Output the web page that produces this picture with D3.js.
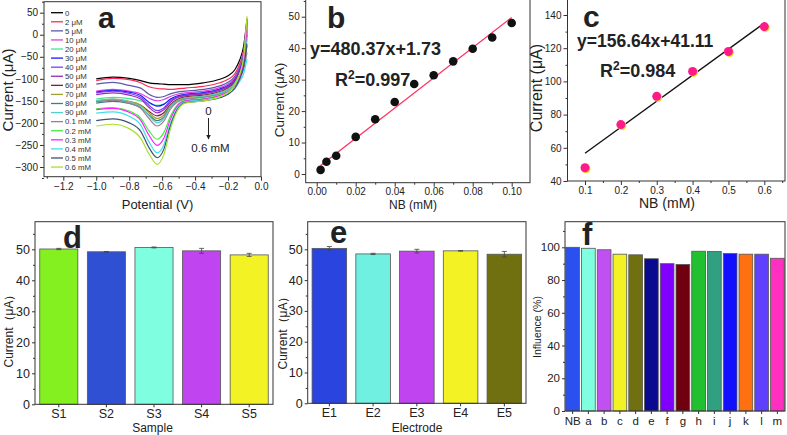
<!DOCTYPE html>
<html>
<head>
<meta charset="utf-8">
<script src="https://cdn.jsdelivr.net/npm/d3@7"></script>
<style>
  body { margin: 0; background: #fff; }
  svg { display: block; font-family: "Liberation Sans", Arial, sans-serif; }
</style>
</head>
<body>
<svg id="chart" width="787" height="435"></svg>
<script>
// ---------- panel a : voltammograms ----------
const cvPotential = [-1.0, -0.9, -0.8, -0.73, -0.68, -0.63, -0.59, -0.55, -0.51, -0.46, -0.35, -0.25, -0.2, -0.16, -0.13, -0.105, -0.085];
const cvLabels = ["0", "2 μM", "5 μM", "10 μM", "20 μM", "30 μM", "40 μM", "50 μM", "60 μM", "70 μM", "80 μM", "90 μM",
                  "0.1 mM", "0.2 mM", "0.3 mM", "0.4 mM", "0.5 mM", "0.6 mM"];
const cvColors = ["#000000", "#ff2a5a", "#5a5aa8", "#e040e0", "#40e890", "#1a1aff", "#7a3cff", "#9a2ab8", "#80204a",
                  "#a0a030", "#3a8080", "#50d0d0", "#a08090", "#40f040", "#ff20ff", "#40e0e8", "#405078", "#a8e030"];
const cvCurrent = [
  [-100, -96, -99, -104, -109, -111, -112, -113, -113, -113, -109, -101, -93, -80, -58, -25, 35],
  [-104, -99, -102, -109, -118, -122, -123, -124, -123, -121, -117, -109, -101, -89, -67, -35, 25],
  [-112, -108, -115, -121, -135, -142, -140, -134, -130, -128, -124, -116, -108, -95, -73, -42, 10],
  [-128, -124, -128, -134, -144, -150, -147, -140, -135, -132, -128, -120, -112, -99, -77, -40, 38],
  [-146, -142, -145, -150, -156, -160, -157, -147, -140, -136, -132, -124, -116, -103, -81, -48, 28],
  [-130, -126, -130, -138, -153, -162, -158, -146, -139, -135, -131, -123, -115, -102, -80, -46, 30],
  [-132, -128, -133, -142, -160, -172, -166, -150, -141, -137, -133, -125, -117, -104, -82, -52, 15],
  [-136, -132, -137, -146, -165, -177, -170, -153, -143, -138, -134, -126, -118, -105, -83, -55, 5],
  [-152, -148, -152, -160, -174, -184, -177, -158, -147, -141, -137, -129, -121, -108, -86, -58, 0],
  [-150, -146, -151, -160, -177, -190, -182, -161, -149, -143, -139, -131, -123, -110, -90, -64, -10],
  [-155, -151, -156, -165, -182, -195, -187, -164, -151, -145, -141, -133, -125, -112, -93, -70, -25],
  [-150, -146, -152, -163, -184, -200, -190, -165, -151, -144, -140, -132, -124, -111, -89, -60, -5],
  [-152, -148, -155, -167, -190, -207, -196, -169, -153, -146, -142, -135, -128, -116, -98, -78, -40],
  [-168, -165, -173, -189, -218, -237, -222, -185, -160, -149, -145, -137, -129, -115, -92, -55, 32],
  [-170, -167, -176, -194, -228, -251, -235, -192, -163, -150, -146, -138, -130, -117, -95, -60, 20],
  [-178, -175, -185, -205, -243, -268, -250, -201, -168, -152, -148, -141, -134, -123, -106, -88, -55],
  [-195, -191, -200, -219, -256, -279, -260, -207, -171, -154, -150, -143, -135, -122, -101, -72, -20],
  [-207, -203, -213, -235, -270, -294, -272, -214, -174, -155, -150, -141, -131, -115, -90, -50, 42]
];

// ---------- panel b / c : calibration ----------
const nbLow = [0.002, 0.005, 0.01, 0.02, 0.03, 0.04, 0.05, 0.06, 0.07, 0.08, 0.09, 0.1];
const currentLow = [1.3, 3.9, 5.8, 11.8, 17.4, 22.9, 28.6, 31.4, 35.8, 39.8, 43.4, 48.0];
const fitLow = [480.37, 1.73];      // slope, intercept
const nbHigh = [0.1, 0.2, 0.3, 0.4, 0.5, 0.6];
const currentHigh = [48, 74, 91, 106, 118, 133];
const fitHigh = [156.64, 41.11];

// ---------- panel d / e / f : bars ----------
const samples = ["S1", "S2", "S3", "S4", "S5"];
const sampleCurrent = [50.1, 49.2, 50.6, 49.5, 48.2];
const sampleErr = [0.2, 0.1, 0.15, 0.8, 0.5];
const sampleColors = ["#84f020", "#3050d4", "#80ffe0", "#c044f0", "#f2f224"];

const electrodes = ["E1", "E2", "E3", "E4", "E5"];
const electrodeCurrent = [50.3, 48.5, 49.4, 49.5, 48.4];
const electrodeErr = [0.6, 0.2, 0.6, 0.1, 0.9];
const electrodeColors = ["#2a44e0", "#70f0e0", "#c044f0", "#f2f224", "#707010"];

const interferents = ["NB", "a", "b", "c", "d", "e", "f", "g", "h", "i", "j", "k", "l", "m"];
const influence = [100, 99.4, 98.5, 95.8, 95.4, 93.0, 90.0, 89.5, 97.6, 97.5, 96.2, 95.8, 95.8, 93.3];
const influenceColors = ["#2a50f0", "#80ffe0", "#c050f0", "#f2f224", "#707010", "#0a0a90", "#8000ff",
                         "#700010", "#20c030", "#30a080", "#1010ff", "#ff7010", "#6040ff", "#ff30c0"];

const svg = d3.select("#chart");
const ink = "#222";

// ---------------------------------------------------------------
// axes + frame helper
// ---------------------------------------------------------------
function axes(box, x, y, o) {
  const g = svg.append("g");
  const xa = d3.axisBottom(x).tickSize(o.ts || 4).tickPadding(o.tp || 2);
  if (o.xt) xa.tickValues(o.xt);
  if (o.xf) xa.tickFormat(o.xf);
  g.append("g").attr("transform", `translate(0,${box.y1})`).call(xa)
    .attr("font-size", o.fs).attr("font-family", null);
  if (o.xm) g.append("g").attr("transform", `translate(0,${box.y1})`)
    .call(d3.axisBottom(x).tickValues(o.xm).tickSize(2).tickFormat(""));

  const ya = d3.axisLeft(y).tickValues(o.yt).tickSize(o.ts || 4).tickPadding(2);
  if (o.yf) ya.tickFormat(o.yf);
  g.append("g").attr("transform", `translate(${box.x0},0)`).call(ya)
    .attr("font-size", o.fs).attr("font-family", null);
  if (o.ym) g.append("g").attr("transform", `translate(${box.x0},0)`)
    .call(d3.axisLeft(y).tickValues(o.ym).tickSize(2).tickFormat(""));

  g.selectAll(".domain").remove();
  g.selectAll(".tick line").attr("stroke", "#333");
  g.selectAll(".tick text").attr("fill", ink);

  g.append("rect")
    .attr("x", box.x0).attr("y", box.y0)
    .attr("width", box.x1 - box.x0).attr("height", box.y1 - box.y0)
    .attr("fill", "none").attr("stroke", "#333").attr("stroke-width", 1);
  return g;
}

function label(txt, x, y, size, weight, anchor, rotate) {
  const t = svg.append("text")
    .attr("font-size", size).attr("font-weight", weight || "normal")
    .attr("fill", ink).attr("text-anchor", anchor || "start")
    .text(txt);
  if (rotate) t.attr("transform", `translate(${x},${y}) rotate(-90)`);
  else t.attr("x", x).attr("y", y);
  return t;
}

// ---------------------------------------------------------------
// a) voltammograms
// ---------------------------------------------------------------
{
  const box = { x0: 44, x1: 261, y0: 1.7, y1: 176.7 };
  const x = d3.scaleLinear().domain([-1.2, 0]).range([63.3, 261]);
  const y = d3.scaleLinear().domain([-300, 50]).range([167, 12.7]);

  const line = d3.line()
    .x((d, i) => x(cvPotential[i]))
    .y(d => y(d))
    .curve(d3.curveMonotoneX);

  svg.append("g").selectAll("path")
    .data(cvCurrent)
    .join("path")
      .attr("d", line)
      .attr("fill", "none")
      .attr("stroke", (d, i) => cvColors[i])
      .attr("stroke-width", 1.2);

  axes(box, x, y, {
    fs: 10,
    xt: d3.range(-12, 1, 2).map(v => v / 10), xf: d3.format(".1f"),
    xm: d3.range(-13, 0, 2).map(v => v / 10),
    yt: d3.range(-300, 51, 50), ym: d3.range(-325, 76, 50)
  });

  // legend
  const lg = svg.append("g").attr("font-size", 7.8);
  cvLabels.forEach((lab, i) => {
    const ly = 12.7 + i * 9.08;
    lg.append("line").attr("x1", 51).attr("x2", 63).attr("y1", ly).attr("y2", ly)
      .attr("stroke", cvColors[i]).attr("stroke-width", 1.3);
    lg.append("text").attr("x", 65).attr("y", ly + 2.8).attr("fill", "#333").text(lab);
  });

  // arrow annotation
  svg.append("defs").append("marker")
    .attr("id", "arr").attr("viewBox", "0 0 10 10").attr("refX", 9).attr("refY", 5)
    .attr("markerWidth", 5).attr("markerHeight", 5).attr("orient", "auto")
    .append("path").attr("d", "M0,0 L10,5 L0,10 z").attr("fill", ink);
  label("0", 208.5, 115, 11.5, "normal", "middle");
  svg.append("line").attr("x1", 208.5).attr("x2", 208.5).attr("y1", 118).attr("y2", 139)
    .attr("stroke", ink).attr("stroke-width", 1).attr("marker-end", "url(#arr)");
  label("0.6 mM", 210.5, 152, 11.5, "normal", "middle");

  label("a", 98, 28, 30, "bold");
  label("Potential (V)", 157.5, 209, 13, "normal", "middle");
  label("Current (μA)", 13, 90, 15, "normal", "middle", true);
}

// ---------------------------------------------------------------
// b) low range calibration
// ---------------------------------------------------------------
{
  const box = { x0: 305.7, x1: 530, y0: -0.5, y1: 182.7 };
  const x = d3.scaleLinear().domain([0, 0.1]).range([316.7, 511.7]);
  const y = d3.scaleLinear().domain([0, 50]).range([174, 16.7]);

  axes(box, x, y, {
    fs: 10, tp: 1,
    xt: d3.range(0, 11, 2).map(v => v / 100), xf: d3.format(".2f"),
    xm: d3.range(1, 11, 2).map(v => v / 100),
    yt: d3.range(0, 51, 10), ym: d3.range(5, 56, 10)
  });

  const x0 = nbLow[0], x1 = nbLow[nbLow.length - 1];
  svg.append("line")
    .attr("x1", x(x0)).attr("y1", y(fitLow[0] * x0 + fitLow[1]))
    .attr("x2", x(x1)).attr("y2", y(fitLow[0] * x1 + fitLow[1]))
    .attr("stroke", "#ff3060").attr("stroke-width", 1.3);

  svg.append("g").selectAll("circle")
    .data(nbLow)
    .join("circle")
      .attr("cx", d => x(d))
      .attr("cy", (d, i) => y(currentLow[i]))
      .attr("r", 4.3)
      .attr("fill", "#111");

  label("b", 327, 28, 30, "bold");
  label("y=480.37x+1.73", 310, 55, 18, "bold");
  const r2 = label("R", 335, 86, 18, "bold");
  r2.append("tspan").attr("dy", -7).attr("font-size", 12).text("2");
  r2.append("tspan").attr("dy", 7).text("=0.997");
  label("NB (mM)", 413, 209, 12, "normal", "middle");
  label("Current (μA)", 284, 100, 13.5, "normal", "middle", true);
}

// ---------------------------------------------------------------
// c) high range calibration
// ---------------------------------------------------------------
{
  const box = { x0: 567.5, x1: 785, y0: -0.5, y1: 181 };
  const x = d3.scaleLinear().domain([0.1, 0.6]).range([585, 764.3]);
  const y = d3.scaleLinear().domain([40, 140]).range([181, 15]);

  axes(box, x, y, {
    fs: 10,
    xt: nbHigh, xf: d3.format(".1f"),
    xm: d3.range(15, 66, 10).map(v => v / 100),
    yt: d3.range(40, 141, 20), ym: d3.range(50, 141, 20)
  });

  const x0 = nbHigh[0], x1 = nbHigh[nbHigh.length - 1];
  svg.append("line")
    .attr("x1", x(x0)).attr("y1", y(fitHigh[0] * x0 + fitHigh[1]))
    .attr("x2", x(x1)).attr("y2", y(fitHigh[0] * x1 + fitHigh[1]))
    .attr("stroke", "#111").attr("stroke-width", 1.3);

  const pts = svg.append("g");
  pts.selectAll("circle.sh")
    .data(nbHigh)
    .join("circle").attr("class", "sh")
      .attr("cx", d => x(d) + 1)
      .attr("cy", (d, i) => y(currentHigh[i]) + 1)
      .attr("r", 4.5)
      .attr("fill", "#f0e020");
  pts.selectAll("circle.pt")
    .data(nbHigh)
    .join("circle").attr("class", "pt")
      .attr("cx", d => x(d))
      .attr("cy", (d, i) => y(currentHigh[i]))
      .attr("r", 4.5)
      .attr("fill", "#ff1a8c");

  label("c", 583, 27, 30, "bold");
  label("y=156.64x+41.11", 577, 47, 17.5, "bold");
  const r2 = label("R", 600, 77, 18, "bold");
  r2.append("tspan").attr("dy", -7).attr("font-size", 12).text("2");
  r2.append("tspan").attr("dy", 7).text("=0.984");
  label("NB (mM)", 667, 208, 14, "normal", "middle");
  label("Current (μA)", 542, 88, 16, "normal", "middle", true);
}

// ---------------------------------------------------------------
// bar panel helper
// ---------------------------------------------------------------
function bars(box, cats, vals, errs, colors, yDom, yRange, o) {
  const x = d3.scaleBand().domain(cats).range([box.x0, box.x1])
    .paddingInner(o.pi).paddingOuter(o.po);
  const y = d3.scaleLinear().domain(yDom).range(yRange);

  const g = svg.append("g");
  g.selectAll("rect")
    .data(cats)
    .join("rect")
      .attr("x", d => x(d))
      .attr("y", (d, i) => y(vals[i]))
      .attr("width", x.bandwidth())
      .attr("height", (d, i) => y(0) - y(vals[i]))
      .attr("fill", (d, i) => colors[i])
      .attr("stroke", "#555")
      .attr("stroke-width", 0.8);

  if (errs) {
    const eg = g.append("g").attr("stroke", "#444").attr("stroke-width", 0.8);
    cats.forEach((c, i) => {
      const cx = x(c) + x.bandwidth() / 2;
      const lo = y(vals[i] - errs[i]), hi = y(vals[i] + errs[i]);
      eg.append("line").attr("x1", cx).attr("x2", cx).attr("y1", lo).attr("y2", hi);
      eg.append("line").attr("x1", cx - 2.5).attr("x2", cx + 2.5).attr("y1", lo).attr("y2", lo);
      eg.append("line").attr("x1", cx - 2.5).attr("x2", cx + 2.5).attr("y1", hi).attr("y2", hi);
    });
  }

  axes(box, x, y, { fs: o.fs, ts: 3, tp: o.tp || 3, yt: o.yt, ym: o.ym });
}

// d) samples
bars({ x0: 35, x1: 273, y0: 221.7, y1: 404.3 }, samples, sampleCurrent, sampleErr, sampleColors,
     [0, 50], [404.3, 249.3],
     { pi: 0.2, po: 0.1, fs: 12.5, tp: 2, yt: d3.range(0, 51, 10), ym: d3.range(5, 56, 10) });
label("d", 63, 248, 31, "bold");
label("Sample", 152.5, 432, 12, "normal", "middle");
label("Current（μA）", 13, 328, 12, "normal", "middle", true);

// e) electrodes
bars({ x0: 307.7, x1: 526, y0: 221.7, y1: 403.3 }, electrodes, electrodeCurrent, electrodeErr, electrodeColors,
     [0, 50], [403.3, 249.3],
     { pi: 0.21, po: 0.1, fs: 12.5, tp: 2, yt: d3.range(0, 51, 10), ym: d3.range(5, 56, 10) });
label("e", 330, 243, 31, "bold");
label("Electrode", 417, 432, 12, "normal", "middle");
label("Current（μA）", 287, 330, 12, "normal", "middle", true);

// f) interference
bars({ x0: 565, x1: 785, y0: 221.7, y1: 411 }, interferents, influence, null, influenceColors,
     [0, 100], [411, 247.3],
     { pi: 0.13, po: 0.05, fs: 11.5, yt: d3.range(0, 101, 20), ym: d3.range(10, 111, 20) });
label("f", 582, 245, 31, "bold");
label("Influence (%)", 541, 327, 10.5, "normal", "middle", true);
</script>
</body>
</html>
